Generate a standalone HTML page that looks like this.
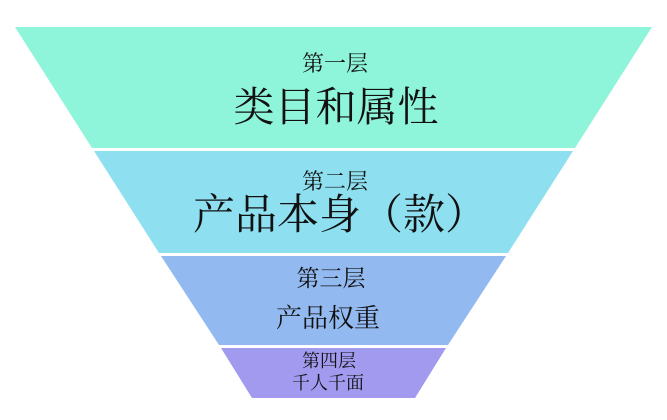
<!DOCTYPE html>
<html><head><meta charset="utf-8"><style>
html,body{margin:0;padding:0;background:#fff;width:667px;height:420px;overflow:hidden}
svg text{font-family:"Liberation Serif","Noto Serif CJK SC",serif;fill:#111;text-anchor:middle}
</style></head><body>
<svg width="667" height="420" viewBox="0 0 667 420">
<polygon points="15,27 652,27 575,148 92,148" fill="#8ef4da"/>
<polygon points="94,151 573,151 508,253 159,253" fill="#8ee0f1"/>
<polygon points="161,256 506,256 448,345 219,345" fill="#93b9f1"/>
<polygon points="221,348 446,348 415,398 252,398" fill="#a19aef"/>
<text x="335" y="71" font-size="22">第一层</text>
<text x="336" y="121" font-size="41">类目和属性</text>
<text x="335" y="189" font-size="22">第二层</text>
<text x="340" y="229" font-size="42">产品本身（款）</text>
<text x="331" y="286" font-size="23">第三层</text>
<text x="328" y="327" font-size="26">产品权重</text>
<text x="329" y="367" font-size="18">第四层</text>
<text x="328" y="389" font-size="18">千人千面</text>
</svg>
</body></html>
